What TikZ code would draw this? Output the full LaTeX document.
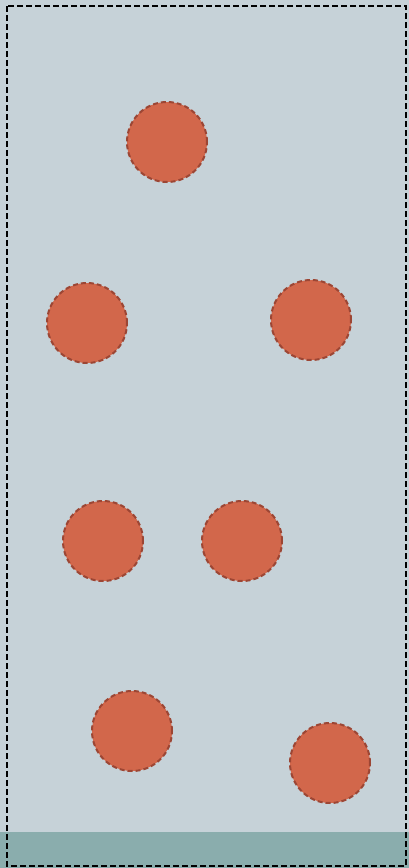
\documentclass[tikz,border=0pt]{standalone}
\usepackage{tikz}

\definecolor{skybg}{HTML}{C6D2D8}
\definecolor{floorc}{HTML}{8AADAD}
\definecolor{ballfill}{HTML}{D2674B}
\definecolor{balledge}{HTML}{9C4634}

\tikzset{
  ball/.style={circle, minimum size=80pt, inner sep=0pt, fill=ballfill,
    draw=balledge, line width=2pt, dash pattern=on 5pt off 3pt}
}

\begin{document}
\begin{tikzpicture}[x=1pt, y=-1pt]
\useasboundingbox (0,0) rectangle (409,868);
\fill[skybg] (0,0) rectangle (409,868);
\fill[floorc] (0,832) rectangle (409,868);
\draw[black, line width=1.8pt, dash pattern=on 6pt off 3pt] (7,6) rectangle (406,866);
\node[ball] (b1) at (167,142) {};
\node[ball] (b2) at (87,323) {};
\node[ball] (b3) at (311,320) {};
\node[ball] (b4) at (103,541) {};
\node[ball] (b5) at (242,541) {};
\node[ball] (b6) at (132,731) {};
\node[ball] (b7) at (330,763) {};
\end{tikzpicture}
\end{document}
